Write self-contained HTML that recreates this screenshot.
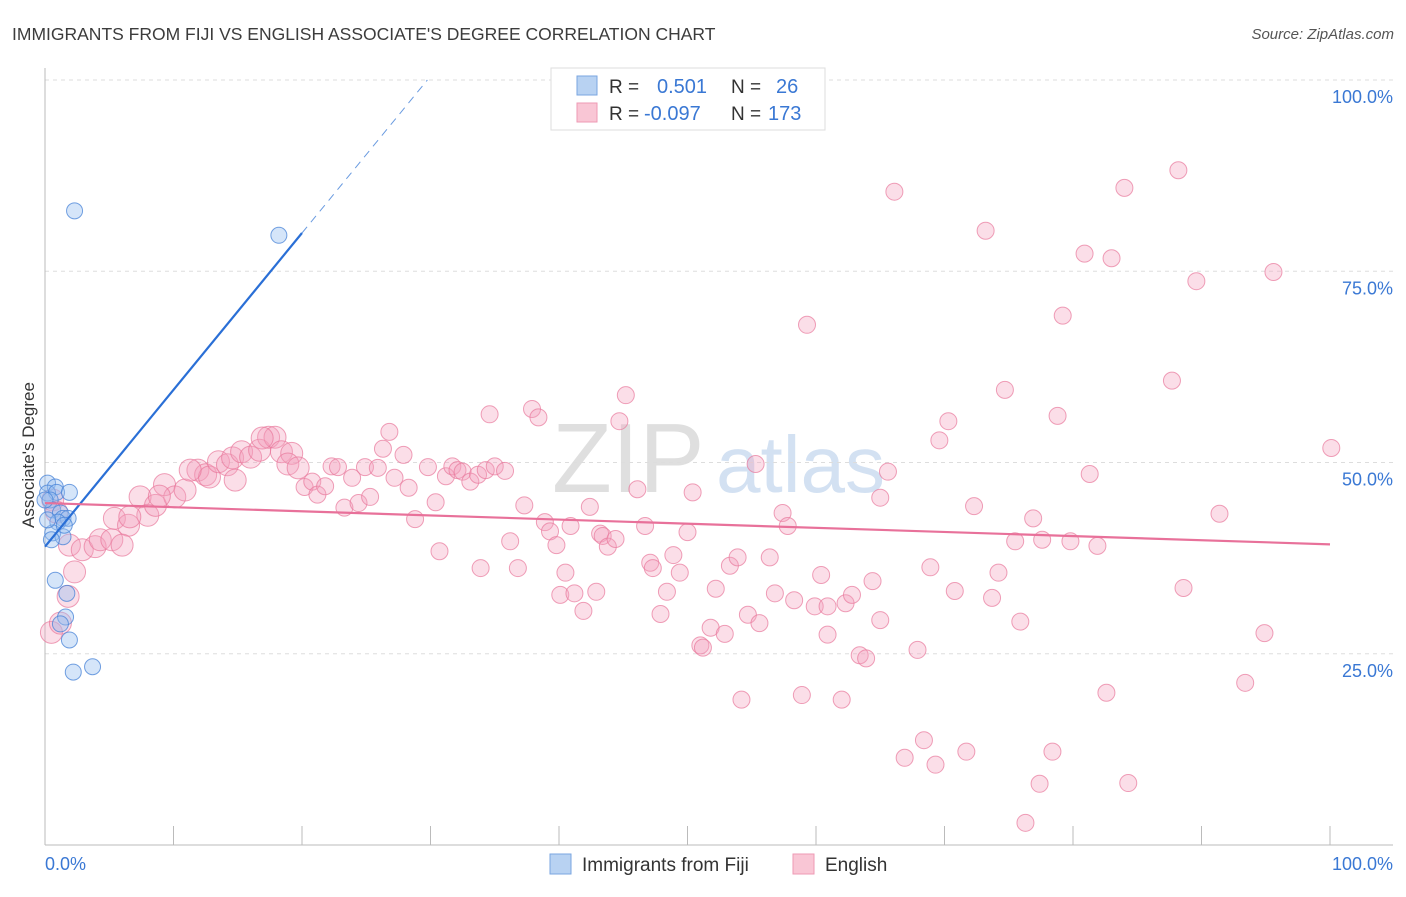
<!DOCTYPE html>
<html><head><meta charset="utf-8"><style>
body{margin:0;background:#fff;font-family:"Liberation Sans",sans-serif;}
svg text{font-family:"Liberation Sans",sans-serif;}
</style></head><body>
<svg id="c" width="1406" height="892" xmlns="http://www.w3.org/2000/svg">
<text x="12" y="40" font-size="17.5" fill="#3c3c3c">IMMIGRANTS FROM FIJI VS ENGLISH ASSOCIATE'S DEGREE CORRELATION CHART</text>
<text x="1394" y="39" font-size="15" fill="#555" font-style="italic" text-anchor="end">Source: ZipAtlas.com</text>
<g>
<text x="552" y="492" font-size="98" fill="#d8d8d8" font-family="Liberation Serif,serif" opacity="0.8">ZIP</text>
<text x="716" y="492" font-size="80" fill="#c9daf0" opacity="0.8">atlas</text>
</g>
<g id="grid"></g>
<g id="axes"></g>
<g id="pts"></g>
<g id="lines"></g>
<text transform="translate(34,455) rotate(-90)" font-size="17" fill="#333" text-anchor="middle">Associate's Degree</text>
<g>
<rect x="551" y="68" width="274" height="62" fill="#fff" stroke="#ddd"/>
<rect x="577" y="76" width="20" height="19" fill="#b8d2f2" stroke="#7aa6e0"/>
<rect x="577" y="103" width="20" height="19" fill="#f9c6d5" stroke="#ee9ab4"/>
<text x="609" y="93" font-size="19" fill="#333">R = </text><text x="657" y="93" font-size="20" fill="#3a78d4">0.501</text>
<text x="731" y="93" font-size="19" fill="#333">N = </text><text x="776" y="93" font-size="20" fill="#3a78d4">26</text>
<text x="609" y="120" font-size="19" fill="#333">R = </text><text x="644" y="120" font-size="20" fill="#3a78d4">-0.097</text>
<text x="731" y="120" font-size="19" fill="#333">N = </text><text x="768" y="120" font-size="20" fill="#3a78d4">173</text>
</g>
<g>
<rect x="550" y="854" width="21" height="20" fill="#b8d2f2" stroke="#7aa6e0"/>
<text x="582" y="871" font-size="19" fill="#333">Immigrants from Fiji</text>
<rect x="793" y="854" width="21" height="20" fill="#f9c6d5" stroke="#ee9ab4"/>
<text x="825" y="871" font-size="19" fill="#333">English</text>
</g>
</svg>
<script>
const yTicks=[25,50,75,100];
const yTickLabels=["25.0%","50.0%","75.0%","100.0%"];
const xTickLabels=["0.0%","100.0%"];
const fijiX=[2.3,18.2,0.2,0.8,0.2,0.9,1.9,0.4,0.6,1.2,1.4,1.8,1.0,0.6,1.4,0.8,1.7,1.6,1.2,1.9,2.2,3.7,0.2,0.5,1.5,0];
const fijiY=[82.9,79.7,47.3,46.8,46.0,46.1,46.1,45.1,43.8,43.4,42.7,42.7,42.2,40.8,40.3,34.6,32.9,29.8,28.9,26.8,22.6,23.3,42.5,39.9,41.8,45.1];
const engX=[0.5,1.2,1.8,2.3,1.9,2.9,3.9,4.3,5.2,5.4,6.5,7.4,8.0,8.6,9.3,10.1,10.9,11.9,12.5,12.8,13.5,14.2,14.6,15.3,16.0,16.7,17.4,17.9,18.4,19.2,18.9,19.7,20.2,20.8,21.2,21.8,22.3,22.8,23.3,23.9,24.4,24.9,25.3,25.9,26.3,26.8,27.2,27.9,28.3,28.8,29.8,30.4,30.7,31.2,31.7,32.1,32.5,33.1,33.7,34.3,34.6,35.0,35.8,33.9,36.2,36.8,37.3,37.9,38.4,38.9,39.3,39.8,40.1,40.5,40.9,41.2,41.9,42.4,42.9,43.2,43.4,43.8,44.4,44.7,45.2,46.1,46.7,47.1,47.3,47.9,48.4,48.9,49.4,50.0,50.4,51.0,51.2,51.8,52.2,52.9,53.3,53.9,54.2,54.7,55.3,55.6,56.4,56.8,57.4,57.8,58.3,58.9,59.3,59.9,60.4,60.9,60.9,62.0,62.3,62.8,63.4,63.9,64.4,65.0,65.0,65.6,66.1,66.9,67.9,68.4,68.9,69.3,69.6,70.3,70.8,71.7,72.3,73.2,73.7,74.2,74.7,75.5,75.9,76.3,76.9,77.4,77.6,78.4,78.8,79.2,79.8,80.9,81.3,81.9,82.6,83.0,84.0,84.3,87.7,88.2,88.6,89.6,91.4,93.4,94.9,95.6,100.1,0.6,0.9,6.6,8.9,11.3,6.0,14.8,16.9];
const engY=[27.8,29.0,32.5,35.7,39.2,38.6,39.0,39.9,39.9,42.7,41.8,45.5,43.1,44.4,47.1,45.5,46.4,49.0,48.4,48.1,50.1,49.7,50.6,51.4,50.7,51.6,53.3,53.3,51.4,51.2,49.8,49.3,46.8,47.5,45.8,46.9,49.5,49.4,44.1,48.0,44.7,49.4,45.5,49.3,51.8,54.0,48.0,51.0,46.7,42.6,49.4,44.8,38.4,48.2,49.5,49.0,48.8,47.5,48.4,49.0,56.3,49.5,48.9,36.2,39.7,36.2,44.4,57.0,55.9,42.2,41.0,39.2,32.7,35.6,41.7,32.9,30.6,44.2,33.1,40.7,40.4,39.0,40.0,55.4,58.8,46.5,41.7,36.9,36.2,30.2,33.1,37.9,35.6,40.9,46.1,26.1,25.8,28.4,33.5,27.6,36.5,37.6,19.0,30.1,49.8,29.0,37.6,32.9,43.4,41.7,32.0,19.6,68.0,31.2,35.3,27.5,31.2,19.0,31.6,32.7,24.8,24.4,34.5,29.4,45.4,48.8,85.4,11.4,25.5,13.7,36.3,10.5,52.9,55.4,33.2,12.2,44.3,80.3,32.3,35.6,59.5,39.7,29.2,2.9,42.7,8.0,39.9,12.2,56.1,69.2,39.7,77.3,48.5,39.1,19.9,76.7,85.9,8.1,60.7,88.2,33.6,73.7,43.3,21.2,27.7,74.9,51.9,45.1,43.5,42.9,45.6,49.0,39.2,47.7,53.2];
const fijiTrend=[39.0,2.05];
const engTrend=[44.7,-0.054];
const NS="http://www.w3.org/2000/svg";
const X=v=>45+v*12.85, Y=v=>845-v*7.65;
function mk(tag,parent,attrs){const e=document.createElementNS(NS,tag);for(const k in attrs)e.setAttribute(k,attrs[k]);document.getElementById(parent).appendChild(e);return e;}
yTicks.forEach((t,i)=>{
  const g=mk('line','grid',{x1:45,x2:1393,y1:Y(t),y2:Y(t),stroke:'#ddd','stroke-dasharray':'4,4'});
  
  
  const l=mk('text','grid',{x:1393,y:Y(t)+23,'font-size':18,fill:'#3a78d4','text-anchor':'end'});
  l.textContent=yTickLabels[i];
  
  
});
const ax=mk('line','axes',{x1:45,x2:45,y1:68,y2:845,stroke:'#bbb'});


const bx=mk('line','axes',{x1:45,x2:1393,y1:845,y2:845,stroke:'#bbb'});


for(let i=1;i<=10;i++){const t=mk('line','axes',{x1:X(i*10),x2:X(i*10),y1:826,y2:845,stroke:'#bbb'});

}
[[0,'start',45],[100,'end',1393]].forEach((p,i)=>{const t=mk('text','axes',{x:p[2],y:870,'font-size':18,fill:'#3a78d4','text-anchor':p[1]});t.textContent=xTickLabels[i];

});
engX.forEach((x,i)=>{const c=mk('circle','pts',{cx:X(x),cy:Y(engY[i]),r:x<20?11:8.5,fill:'rgba(244,160,188,0.35)',stroke:'rgba(232,120,155,0.7)','stroke-width':1});

});
fijiX.forEach((x,i)=>{const c=mk('circle','pts',{cx:X(x),cy:Y(fijiY[i]),r:8,fill:'rgba(150,190,240,0.4)',stroke:'rgba(70,130,215,0.75)','stroke-width':1});

});
const fEnd=20, fMax=(100-fijiTrend[0])/fijiTrend[1];
const l1=mk('line','lines',{x1:X(0),y1:Y(fijiTrend[0]),x2:X(fEnd),y2:Y(fijiTrend[0]+fijiTrend[1]*fEnd),stroke:'#2a6fd6','stroke-width':2.2});


const l2=mk('line','lines',{x1:X(fEnd),y1:Y(fijiTrend[0]+fijiTrend[1]*fEnd),x2:X(fMax),y2:Y(100),stroke:'#6a9be0','stroke-width':1,'stroke-dasharray':'8,6'});


const l3=mk('line','lines',{x1:X(0),y1:Y(engTrend[0]),x2:X(100),y2:Y(engTrend[0]+engTrend[1]*100),stroke:'#e8719a','stroke-width':2.2});


</script>
</body></html>
